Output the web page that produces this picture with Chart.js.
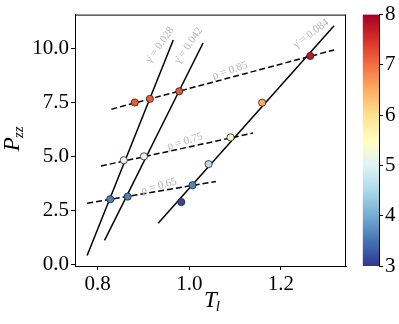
<!DOCTYPE html>
<html>
<head>
<meta charset="utf-8">
<script src="https://cdn.jsdelivr.net/npm/chart.js@4/dist/chart.umd.min.js"></script>
<style>
  body { margin: 0; background: #fff; }
  #wrap { position: relative; width: 399px; height: 324px; }
  canvas { position: absolute; top: 0; }
</style>
</head>
<body>
<div id="wrap">
  <canvas id="main" width="399" height="324" style="left:0"></canvas>
  <canvas id="cbar" width="44" height="324" style="left:355px"></canvas>
</div>
<script>
// scatter points: T_l, P_zz and colour value
const ptX = [0.881, 0.914, 0.978, 1.264, 0.857, 0.901, 1.090, 0.8275, 0.8655, 1.007, 0.9825, 1.042, 1.159];
const ptY = [7.50, 7.67, 8.02, 9.66, 4.82, 5.00, 5.88, 3.01, 3.13, 3.66, 2.88, 4.64, 7.49];
const ptC = [7.15, 7.15, 7.2, 7.75, 5.1, 5.15, 5.4, 3.6, 3.6, 3.65, 3.1, 4.6, 6.5];

// constant shear-rate lines (solid) and constant density lines (dashed)
const gammaVals = ['0.028', '0.042', '0.084'];
const gammaX = [[0.777, 0.965], [0.815, 1.030], [0.932, 1.316]];
const gammaY = [[0.40, 10.40], [1.10, 10.26], [1.90, 11.06]];
const rhoVals = ['0.85', '0.75', '0.65'];
const rhoX = [[0.830, 1.316], [0.807, 1.139], [0.777, 1.058]];
const rhoY = [[7.19, 9.94], [4.55, 6.08], [2.82, 3.83]];

// where the line labels sit (data coords)
const gammaLabelX = [0.936, 0.998, 1.2657];
const gammaLabelY = [10.17, 10.14, 10.69];
const rhoLabelX = [1.089, 0.9906, 0.934];
const rhoLabelY = [8.98, 5.69, 3.61];

const xTicks = [0.8, 1.0, 1.2];
const yTicks = [0.0, 2.5, 5.0, 7.5, 10.0];
const cbMin = 3, cbMax = 8;

const cmapStops = ['#313695','#4575b4','#74add1','#abd9e9','#e0f3f8','#ffffbf',
                   '#fee090','#fdae61','#f46d43','#d73027','#a50026'];

function hex2rgb(h) {
  return [parseInt(h.slice(1,3),16), parseInt(h.slice(3,5),16), parseInt(h.slice(5,7),16)];
}
function cmap(v) {
  let t = (v - cbMin) / (cbMax - cbMin);
  t = Math.max(0, Math.min(1, t)) * (cmapStops.length - 1);
  const i = Math.min(Math.floor(t), cmapStops.length - 2), f = t - i;
  const a = hex2rgb(cmapStops[i]), b = hex2rgb(cmapStops[i+1]);
  const c = a.map((x, k) => Math.round(x + (b[k]-x)*f));
  return 'rgb(' + c.join(',') + ')';
}

const serif = "'Liberation Serif', 'DejaVu Serif', serif";
const tickFont = { family: serif, size: 21 };

const datasets = [];
gammaX.forEach((xs, i) => {
  datasets.push({
    data: xs.map((x, k) => ({ x: x, y: gammaY[i][k] })),
    showLine: true, borderColor: '#000', borderWidth: 1.5,
    pointRadius: 0, order: 2
  });
});
rhoX.forEach((xs, i) => {
  datasets.push({
    data: xs.map((x, k) => ({ x: x, y: rhoY[i][k] })),
    showLine: true, borderColor: '#000', borderWidth: 1.5, borderDash: [6, 3],
    pointRadius: 0, order: 2
  });
});
datasets.push({
  data: ptX.map((x, i) => ({ x: x, y: ptY[i] })),
  pointBackgroundColor: ptC.map(cmap),
  pointBorderColor: '#222', pointBorderWidth: 0.8, pointRadius: 3.6,
  order: 0
});

const decorations = {
  id: 'decorations',
  afterDatasetsDraw(chart) {
    const c = chart.ctx, sx = chart.scales.x, sy = chart.scales.y;
    c.save();
    c.fillStyle = '#b4b4b4';
    c.textAlign = 'center';
    c.textBaseline = 'middle';
    c.font = '11px ' + serif;
    const angG = [-55, -55, -37], angR = [-19, -17, -16];
    gammaVals.forEach((g, i) => {
      c.save();
      c.translate(sx.getPixelForValue(gammaLabelX[i]), sy.getPixelForValue(gammaLabelY[i]));
      c.rotate(angG[i] * Math.PI / 180);
      c.fillText('\u03b3\u0307 = ' + g, 0, 0);
      c.restore();
    });
    rhoVals.forEach((r, i) => {
      c.save();
      c.translate(sx.getPixelForValue(rhoLabelX[i]), sy.getPixelForValue(rhoLabelY[i]));
      c.rotate(angR[i] * Math.PI / 180);
      c.fillText('\u03c1 = ' + r, 0, 0);
      c.restore();
    });
    c.restore();
  },
  afterDraw(chart) {
    const c = chart.ctx, a = chart.chartArea;
    c.save();
    // top and right spines
    c.strokeStyle = '#000';
    c.lineWidth = 1;
    c.beginPath();
    c.moveTo(a.left, a.top + 0.5); c.lineTo(a.right, a.top + 0.5);
    c.moveTo(a.right - 0.5, a.top); c.lineTo(a.right - 0.5, a.bottom);
    c.stroke();
    // axis titles with subscripts
    c.fillStyle = '#000';
    c.textBaseline = 'alphabetic';
    c.textAlign = 'left';
    const big = 'italic 23px ' + serif, small = 'italic 15px ' + serif;
    c.font = big; const wT = c.measureText('T').width;
    c.font = small; const wl = c.measureText('l').width;
    let x0 = (a.left + a.right) / 2 - (wT + wl) / 2 + 2;
    c.font = big; c.fillText('T', x0, 307);
    c.font = small; c.fillText('l', x0 + wT - 1, 311);

    c.translate(19, (a.top + a.bottom) / 2);
    c.rotate(-Math.PI / 2);
    c.font = big; const wP = c.measureText('P').width;
    c.font = small; const wz = c.measureText('zz').width;
    x0 = -(wP + wz) / 2 + 2;
    c.font = big; c.fillText('P', x0, 0);
    c.font = small; c.fillText('zz', x0 + wP - 1, 4);
    c.restore();
  }
};

new Chart(document.getElementById('main'), {
  type: 'scatter',
  data: { datasets: datasets },
  options: {
    responsive: false,
    animation: false,
    events: [],
    layout: { padding: { top: 14, right: 53, left: 0, bottom: 0 } },
    plugins: { legend: { display: false }, tooltip: { enabled: false } },
    scales: {
      x: {
        type: 'linear', min: 0.7505, max: 1.342,
        afterFit: s => { s.height = 58; },
        afterBuildTicks: s => { s.ticks = xTicks.map(v => ({ value: v })); },
        ticks: { font: tickFont, color: '#000', padding: 2, callback: v => v.toFixed(1) },
        grid: { drawOnChartArea: false, tickLength: 4, color: '#000' },
        border: { color: '#000' }
      },
      y: {
        type: 'linear', min: -0.09, max: 11.58,
        afterFit: s => { s.width = 75; },
        afterBuildTicks: s => { s.ticks = yTicks.map(v => ({ value: v })); },
        ticks: { font: tickFont, color: '#000', padding: 2, callback: v => v.toFixed(1) },
        grid: { drawOnChartArea: false, tickLength: 4, color: '#000' },
        border: { color: '#000' }
      }
    }
  },
  plugins: [decorations]
});

// colour bar as a floating bar with a gradient fill
function barGradient(context) {
  const chart = context.chart, area = chart.chartArea;
  if (!area) return cmap((cbMin + cbMax) / 2);
  const g = chart.ctx.createLinearGradient(0, area.bottom, 0, area.top);
  cmapStops.forEach((col, i) => g.addColorStop(i / (cmapStops.length - 1), col));
  return g;
}

new Chart(document.getElementById('cbar'), {
  type: 'bar',
  data: {
    labels: [''],
    datasets: [{
      data: [[cbMin, cbMax]],
      backgroundColor: barGradient,
      borderWidth: 0,
      barPercentage: 1,
      categoryPercentage: 1
    }]
  },
  options: {
    responsive: false,
    animation: false,
    events: [],
    layout: { padding: { top: 14, bottom: 58, left: 7.7, right: 0 } },
    plugins: { legend: { display: false }, tooltip: { enabled: false } },
    scales: {
      x: { display: false },
      y: {
        position: 'right', min: cbMin, max: cbMax,
        afterFit: s => { s.width = 20; },
        ticks: { stepSize: 1, font: tickFont, color: '#000', padding: 2 },
        grid: { drawOnChartArea: false, tickLength: 4, color: '#000' },
        border: { color: '#000' }
      }
    }
  }
});
</script>
</body>
</html>
